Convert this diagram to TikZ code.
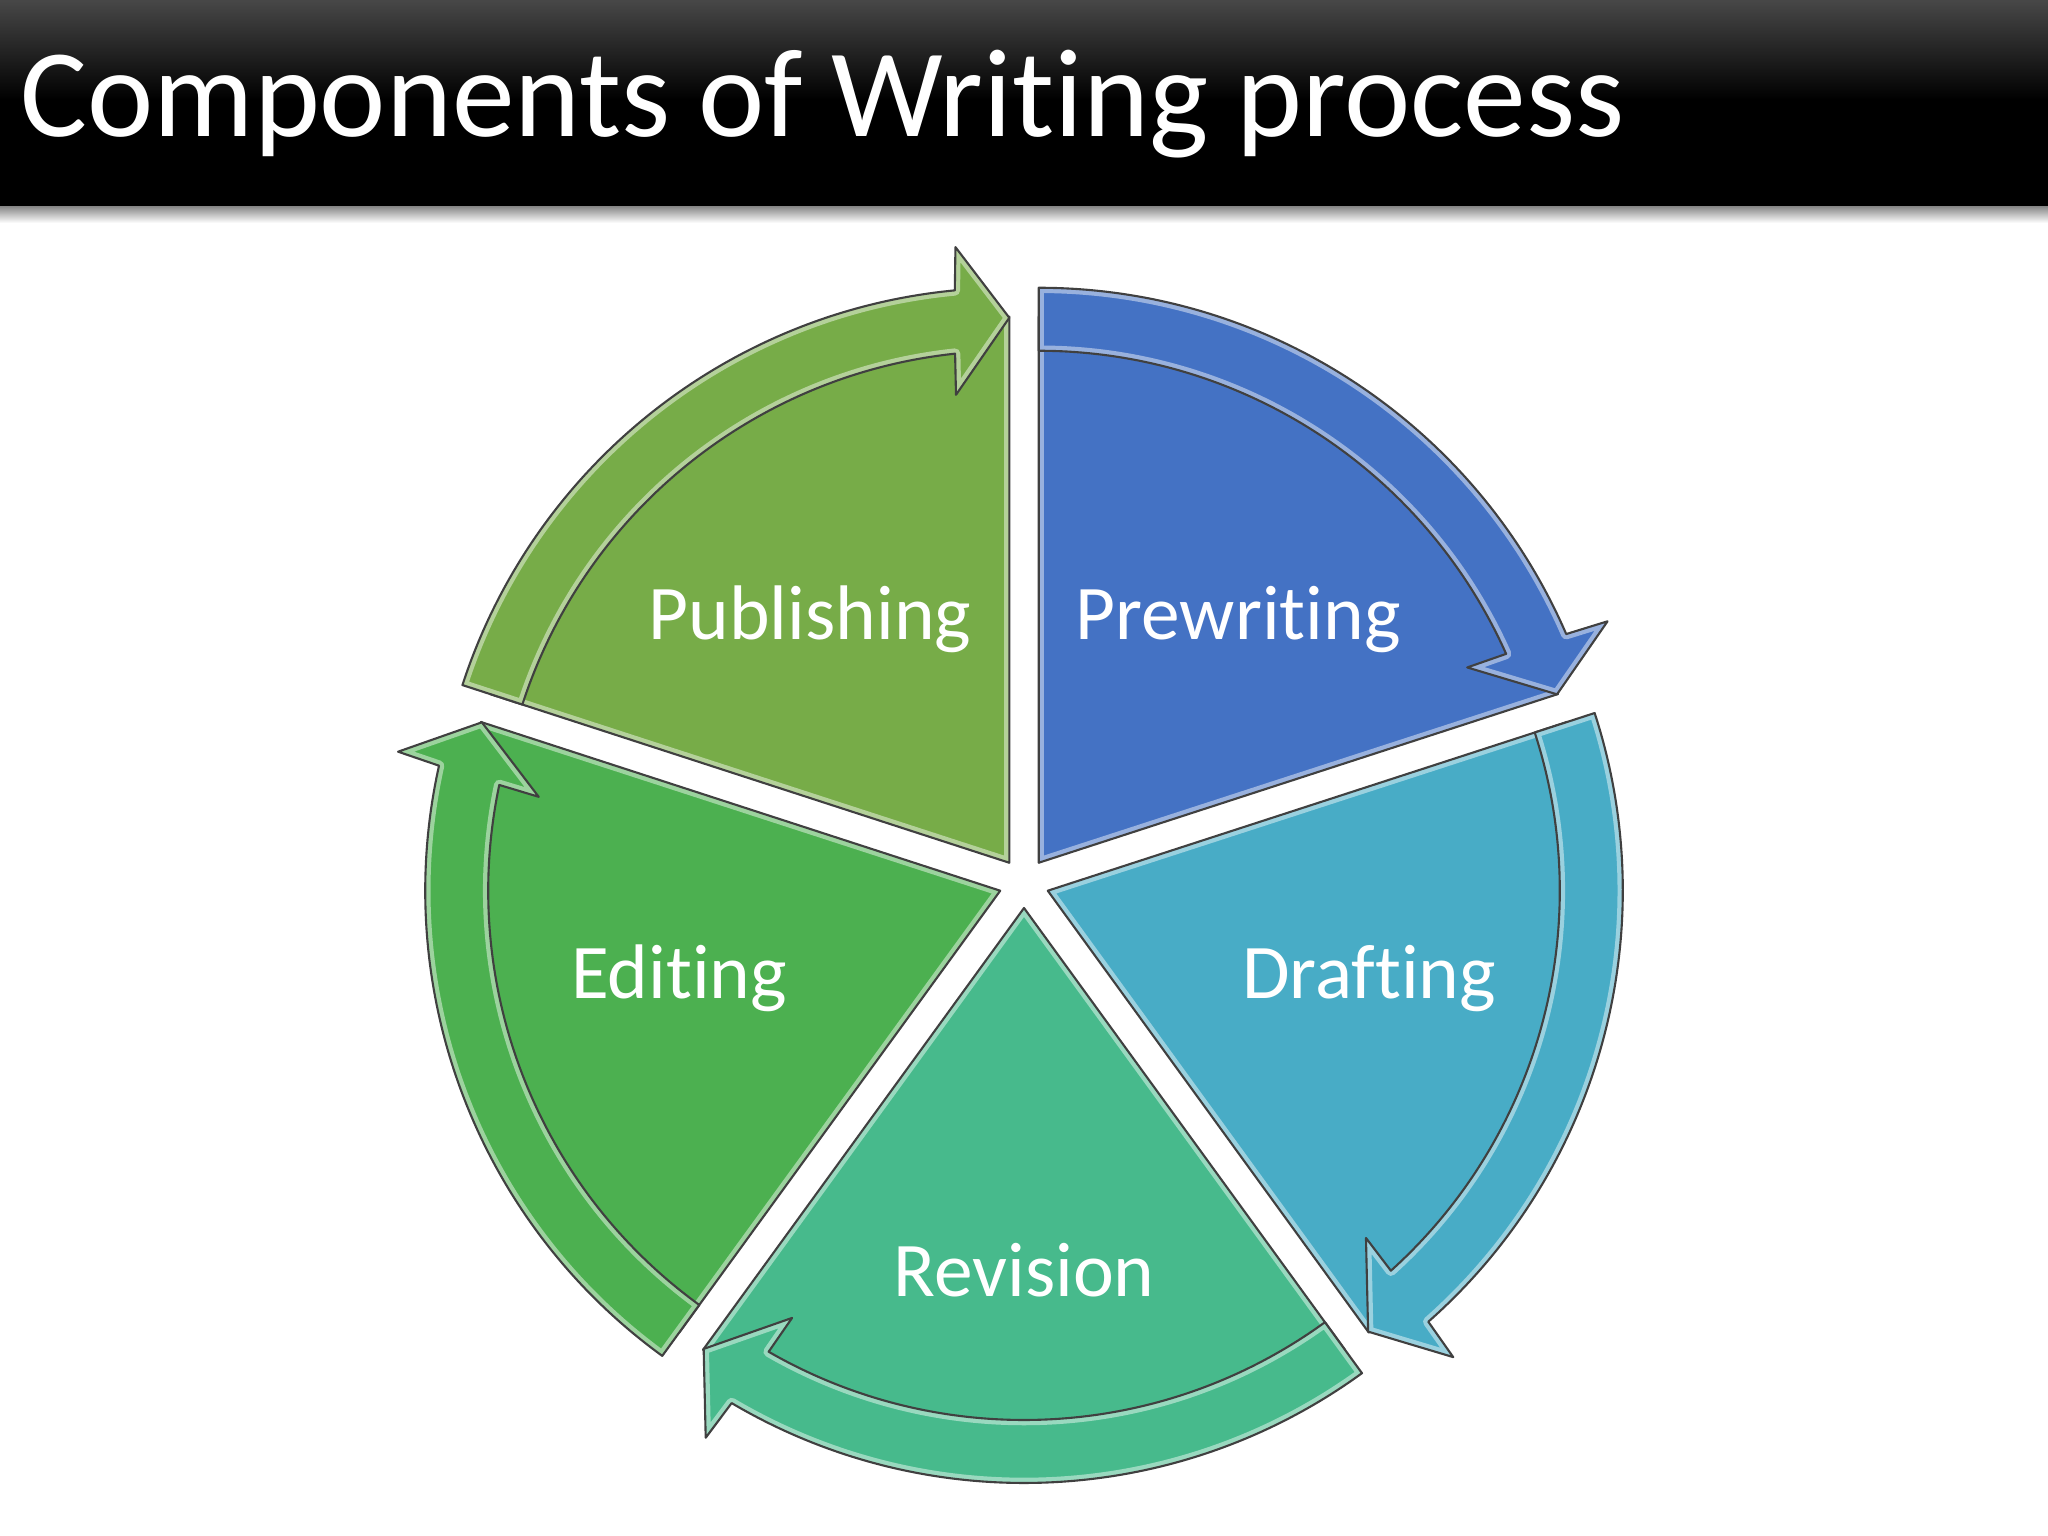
\documentclass[tikz,border=0pt]{standalone}
\usepackage{fontspec}
\setmainfont{Carlito}[Ligatures=NoCommon]
\definecolor{prewritingblue}{RGB}{68,114,196}
\definecolor{draftingteal}{RGB}{72,172,198}
\definecolor{revisiongreen}{RGB}{71,186,140}
\definecolor{editinggreen}{RGB}{76,176,80}
\definecolor{publishinggreen}{RGB}{119,172,72}

\begin{document}
\begin{tikzpicture}[x=0.01cm,y=0.01cm,line join=round,
   seglabel/.style={anchor=base,inner sep=0pt,text=white,font=\fontsize{22}{26}\selectfont},
   outline/.style={draw=black!75,line width=0.6pt},
   bevel/.style={line width=3pt,draw=white,opacity=.45}]
   \useasboundingbox (0,0) rectangle (2048,1536);
   % Title bar with shadow
   \shade [top color=black!72,bottom color=black] (0,1436) rectangle (2048,1536);
   \fill [black] (0,1329) rectangle (2048,1437);
   \shade [top color=black!45,bottom color=white] (0,1313) rectangle (2048,1329);
   \node [anchor=base west,inner sep=0pt,text=white,font=\fontsize{35.7}{42}\selectfont]
        (title) at (20,1399) {Components of Writing process};
   % Radii: pie, arrow band, arrow head
   \def\RPIE{546}
   \def\RIN{512}
   \def\ROUT{575}
   \def\RMID{545}
   \def\HIN{471}
   \def\HOUT{618}
   % One segment: #1 start angle (runs 72 degrees clockwise), #2 colour
   \def\Segment#1#2{%
      \pgfmathsetmacro\S{#1}
      \pgfmathsetmacro\E{#1-72}
      \pgfmathsetmacro\M{#1-36}
      \pgfmathsetmacro\EO{\E+5.44}
      \pgfmathsetmacro\EI{\E+6.08}
      \def\PiePath{(0,0) -- (\S:\RPIE) arc[start angle=\S,end angle=\E,radius=\RPIE] -- cycle}
      \def\BandPath{(\S:\ROUT) arc[start angle=\S,end angle=\EO,radius=\ROUT]
         -- (\E+5:\HOUT) -- (\E:\RMID) -- (\E+6.5:\HIN) -- (\EI:\RIN)
         arc[start angle=\EI,end angle=\S,radius=\RIN] -- cycle}
      \begin{scope}[shift={(\M:25)}]
         \fill [#2] \PiePath;
         \begin{scope} \clip \PiePath; \draw [bevel] \PiePath; \end{scope}
         \draw [outline] \PiePath;
         \fill [#2] \BandPath;
         \begin{scope} \clip \BandPath; \draw [bevel] \BandPath; \end{scope}
         \draw [outline] \BandPath;
      \end{scope}}
   % The wheel
   \begin{scope}[shift={(1024,653)}]
      \Segment{90}{prewritingblue}
      \Segment{18}{draftingteal}
      \Segment{-54}{revisiongreen}
      \Segment{-126}{editinggreen}
      \Segment{162}{publishinggreen}
   \end{scope}
   % Labels
   \node [seglabel] (prewriting) at (1238,896) {Prewriting};
   \node [seglabel] (drafting)   at (1369,537) {Drafting};
   \node [seglabel] (revision)   at (1024,239) {Revision};
   \node [seglabel] (editing)    at (679,537)  {Editing};
   \node [seglabel] (publishing) at (810,896)  {Publishing};
\end{tikzpicture}
\end{document}
